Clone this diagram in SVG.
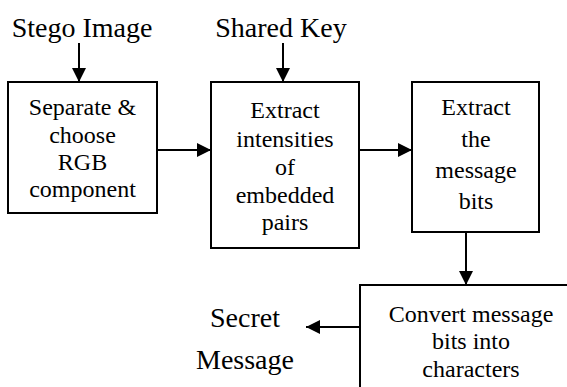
<svg xmlns="http://www.w3.org/2000/svg" width="567" height="387" viewBox="0 0 567 387">
<defs>
<style>
.box{fill:#fff;stroke:#000;stroke-width:2}
.t{font-family:"Liberation Serif","Times New Roman",serif;font-size:24px;fill:#000;text-anchor:middle}
.l{font-family:"Liberation Serif","Times New Roman",serif;font-size:28px;fill:#000;text-anchor:middle}
.c{stroke:#000;stroke-width:2;fill:none;marker-end:url(#ah)}
</style>
<marker id="ah" markerWidth="8" markerHeight="8" refX="7" refY="3.5" orient="auto" markerUnits="strokeWidth">
<path d="M0,0 L7,3.5 L0,7 Z" fill="#000"/>
</marker>
</defs>
<rect width="567" height="387" fill="#fff"/>
<g id="connectors">
<line class="c" x1="79" y1="43" x2="79" y2="82"/>
<line class="c" x1="283" y1="43" x2="283" y2="82"/>
<line class="c" x1="157" y1="150" x2="211" y2="150"/>
<line class="c" x1="359" y1="150" x2="412" y2="150"/>
<line class="c" x1="466" y1="232" x2="466" y2="285"/>
<line class="c" x1="360" y1="327" x2="306" y2="327"/>
</g>
<g id="label-stego"><text class="l" x="82" y="37">Stego Image</text></g>
<g id="label-key"><text class="l" x="281" y="37">Shared Key</text></g>
<g id="node-separate">
<rect class="box" x="8" y="82" width="149" height="131"/>
<text class="t" x="82.5" y="115">Separate &amp;</text>
<text class="t" x="82.5" y="143">choose</text>
<text class="t" x="82.5" y="170">RGB</text>
<text class="t" x="82.5" y="197">component</text>
</g>
<g id="node-extract-intensities">
<rect class="box" x="211" y="82" width="148" height="166"/>
<text class="t" x="285" y="118">Extract</text>
<text class="t" x="285" y="147">intensities</text>
<text class="t" x="285" y="175">of</text>
<text class="t" x="285" y="203">embedded</text>
<text class="t" x="285" y="230">pairs</text>
</g>
<g id="node-extract-bits">
<rect class="box" x="412" y="82" width="127" height="150"/>
<text class="t" x="476" y="115">Extract</text>
<text class="t" x="476" y="147">the</text>
<text class="t" x="476" y="178">message</text>
<text class="t" x="476" y="209">bits</text>
</g>
<g id="node-convert">
<rect class="box" x="360" y="285" width="222" height="120"/>
<text class="t" x="471" y="322">Convert message</text>
<text class="t" x="471" y="349">bits into</text>
<text class="t" x="471" y="377">characters</text>
</g>
<g id="label-secret">
<text class="l" x="245" y="327">Secret</text>
<text class="l" x="245" y="369">Message</text>
</g>
</svg>
